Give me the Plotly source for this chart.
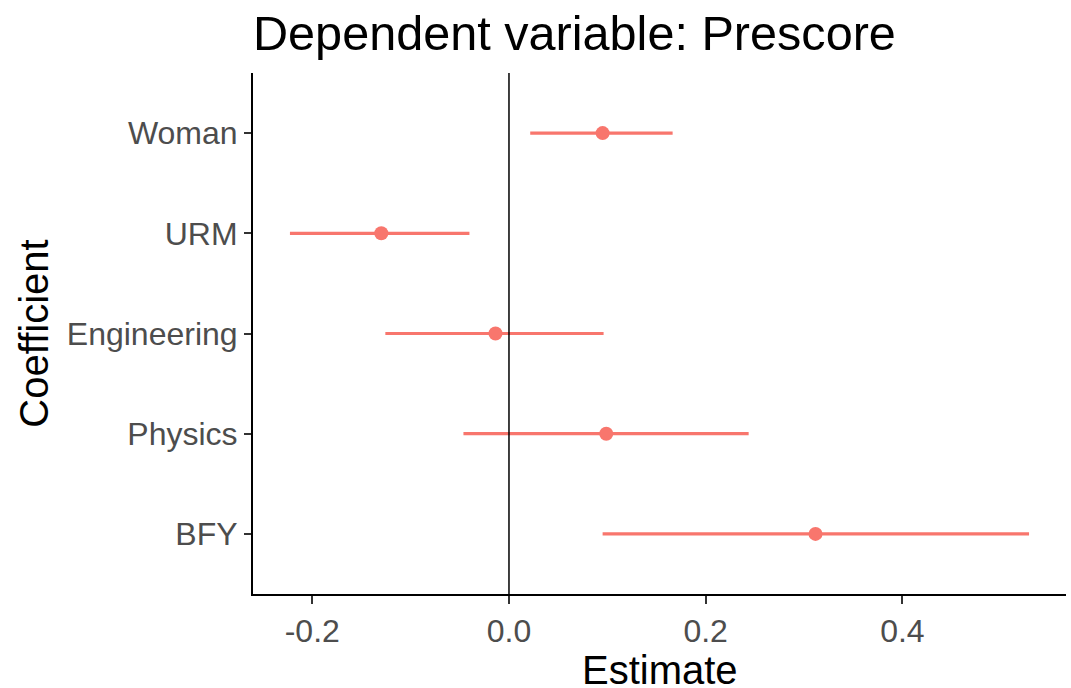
import plotly.graph_objects as go

coefficients = ["Woman", "URM", "Engineering", "Physics", "BFY"]
estimates = [0.0952, -0.1298, -0.0137, 0.0989, 0.3117]
ci_low = [0.0216, -0.2227, -0.1257, -0.0463, 0.0952]
ci_high = [0.1664, -0.0402, 0.0962, 0.2437, 0.5288]
x_tick_vals = [-0.2, 0.0, 0.2, 0.4]
x_tick_text = ["-0.2", "0.0", "0.2", "0.4"]

RED = "#F8766D"
FONT = "Liberation Sans, Arial, sans-serif"

lo_all = min(ci_low)
hi_all = max(ci_high)
span = hi_all - lo_all
x_range = [lo_all - 0.05 * span, hi_all + 0.05 * span]

fig = go.Figure()
fig.add_trace(go.Scatter(
    x=estimates,
    y=coefficients,
    mode="markers",
    marker=dict(color=RED, size=14, line=dict(width=0)),
    error_x=dict(
        type="data",
        symmetric=False,
        array=[h - e for h, e in zip(ci_high, estimates)],
        arrayminus=[e - l for e, l in zip(estimates, ci_low)],
        color=RED,
        thickness=3.2,
        width=0,
    ),
    showlegend=False,
))

fig.add_shape(type="line", xref="x", yref="paper", x0=0, x1=0, y0=0, y1=1,
              line=dict(color="black", width=1.5), layer="above")

# x-axis title as annotation (placed below the tick labels)
fig.add_annotation(
    text="Estimate", xref="paper", yref="paper", x=0.5, y=(594 - 670) / 521,
    xanchor="center", yanchor="middle", showarrow=False,
    font=dict(size=40, color="black", family=FONT),
)

fig.update_layout(
    width=1071, height=688,
    margin=dict(l=253, r=5, t=73, b=94, pad=0),
    paper_bgcolor="white", plot_bgcolor="white",
    font=dict(family=FONT, color="black"),
    title=dict(
        text="Dependent variable: Prescore",
        font=dict(size=48.6, color="black", family=FONT),
        xref="paper", x=0, xanchor="left",
        yref="container", y=1 - 33 / 688, yanchor="middle",
        pad=dict(l=0, r=0, t=0, b=0),
    ),
    xaxis=dict(
        range=x_range,
        tickvals=x_tick_vals, ticktext=x_tick_text,
        showgrid=False, zeroline=False,
        showline=True, linecolor="black", linewidth=2,
        ticks="outside", ticklen=8, tickwidth=2, tickcolor="#333333",
        tickfont=dict(size=32, color="#4D4D4D", family=FONT),
        automargin=False,
    ),
    yaxis=dict(
        type="category",
        categoryorder="array",
        categoryarray=list(reversed(coefficients)),
        range=[-0.6, len(coefficients) - 0.4],
        showgrid=False, zeroline=False,
        showline=True, linecolor="black", linewidth=2,
        ticks="outside", ticklen=7, tickwidth=2, tickcolor="#333333",
        tickfont=dict(size=32, color="#4D4D4D", family=FONT),
        ticklabelstandoff=0,
        title=dict(text="Coefficient", font=dict(size=40, color="black", family=FONT), standoff=6),
        automargin=False,
    ),
)

fig.write_html(
    "out.html",
    config={"displayModeBar": False},
    post_script="document.body.style.margin='0';document.body.style.overflow='hidden';",
)
